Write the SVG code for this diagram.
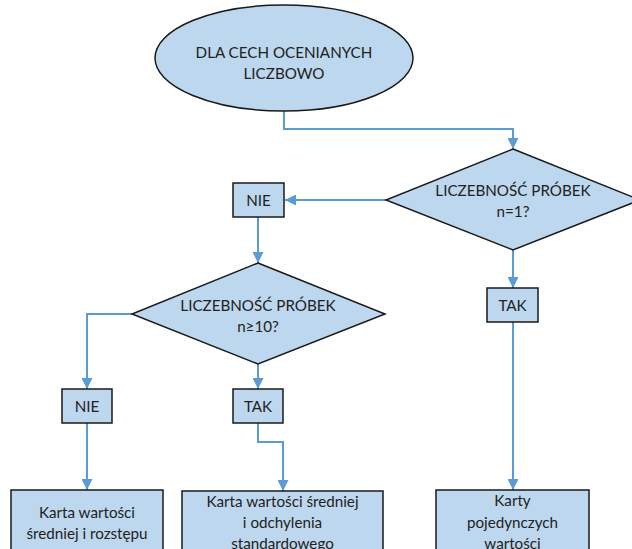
<svg xmlns="http://www.w3.org/2000/svg" width="632" height="549" viewBox="0 0 632 549">
<style>
.n{fill:#BDD7EE;stroke:#1a1a1a;stroke-width:1.5}
.t{font-family:Lato,"Liberation Sans",Arial,sans-serif;font-size:15.2px;fill:#222;text-anchor:middle}
.c{fill:none;stroke:#5B9BD5;stroke-width:2;marker-end:url(#a)}
</style>
<defs>
<marker id="a" viewBox="0 0 10 10" refX="10" refY="5" markerWidth="5.5" markerHeight="5.5" orient="auto" markerUnits="strokeWidth">
<path d="M0,0L10,5L0,10z" fill="#5B9BD5"/>
</marker>
</defs>
<rect width="632" height="549" fill="#fff"/>
<g id="connectors">
<path class="c" d="M284,111V129H513V149"/>
<path class="c" d="M386,200H285"/>
<path class="c" d="M258,217V263"/>
<path class="c" d="M513,249V288"/>
<path class="c" d="M132,314H87V389"/>
<path class="c" d="M258,363V389"/>
<path class="c" d="M87,423V490"/>
<path class="c" d="M258,423V442H283V491"/>
<path class="c" d="M513,322V490"/>
</g>
<g id="start">
<ellipse class="n" cx="284" cy="58" rx="129" ry="53"/>
<text class="t" x="284" y="58">DLA CECH OCENIANYCH</text>
<text class="t" x="284" y="79">LICZBOWO</text>
</g>
<g id="dec1">
<path class="n" d="M513,149L640,200L513,250L386,200Z"/>
<text class="t" x="513" y="196">LICZEBNOŚĆ PRÓBEK</text>
<text class="t" x="513" y="217">n=1?</text>
</g>
<g id="nie1">
<rect class="n" x="233" y="183" width="51" height="34"/>
<text class="t" x="258.5" y="205.5">NIE</text>
</g>
<g id="dec2">
<path class="n" d="M258,263L385,314L258,364L132,314Z"/>
<text class="t" x="258" y="311">LICZEBNOŚĆ PRÓBEK</text>
<text class="t" x="258" y="332">n≥10?</text>
</g>
<g id="tak1">
<rect class="n" x="487" y="288" width="51" height="34"/>
<text class="t" x="512.5" y="310.5">TAK</text>
</g>
<g id="nie2">
<rect class="n" x="62" y="389" width="50" height="34"/>
<text class="t" x="87" y="411.5">NIE</text>
</g>
<g id="tak2">
<rect class="n" x="233" y="389" width="50" height="34"/>
<text class="t" x="258" y="411.5">TAK</text>
</g>
<g id="box1">
<rect class="n" x="11" y="490" width="152" height="70"/>
<text class="t" x="87" y="518">Karta wartości</text>
<text class="t" x="87" y="539">średniej i rozstępu</text>
</g>
<g id="box2">
<rect class="n" x="182" y="491" width="201" height="70"/>
<text class="t" x="282.5" y="507">Karta wartości średniej</text>
<text class="t" x="282.5" y="528">i odchylenia</text>
<text class="t" x="282.5" y="549">standardowego</text>
</g>
<g id="box3">
<rect class="n" x="436" y="490" width="153" height="70"/>
<text class="t" x="512.5" y="506">Karty</text>
<text class="t" x="512.5" y="528">pojedynczych</text>
<text class="t" x="512.5" y="549">wartości</text>
</g>
</svg>
